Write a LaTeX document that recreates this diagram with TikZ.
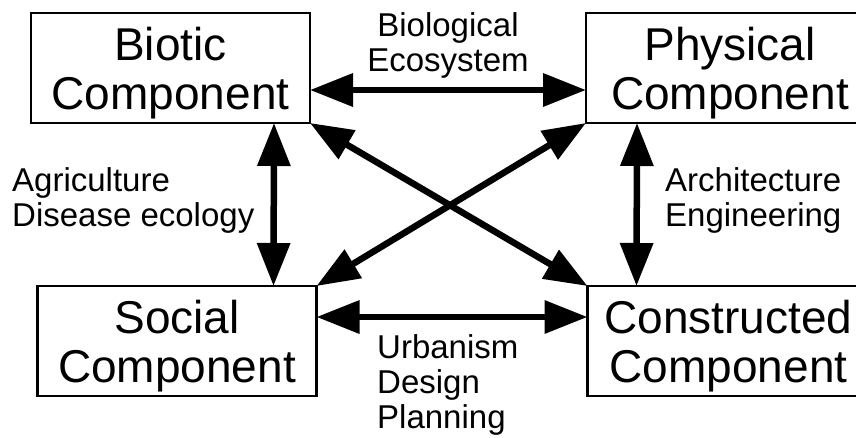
\documentclass[tikz,border=0pt]{standalone}
\usepackage{fontspec}
\setmainfont{Liberation Sans}
\usetikzlibrary{arrows.meta,positioning}

\begin{document}
\begin{tikzpicture}[
  x=1pt, y=-1pt,
  node distance=163pt and 276pt,
  comp/.style={draw, line width=2.5pt, outer sep=0pt, align=center, minimum width=279pt, minimum height=110pt, inner sep=0pt, text depth=0pt, font=\fontsize{46}{49}\selectfont},
  lbl/.style={inner sep=0pt, font=\fontsize{33}{35}\selectfont},
  dblarrow/.style={line width=6.5pt, {Triangle[length=43pt,width=32pt]}-{Triangle[length=43pt,width=32pt]}}
]
\clip (0,0) rectangle (856,437);
% Components
\node[comp] (biotic) at (170.5,68) {Biotic\\Component};
\node[comp, right=of biotic, minimum width=288pt] (physical) {Physical\\Component};
\node[comp, below=of biotic, xshift=6.5pt] (social) {Social\\Component};
\node[comp, right=271pt of social, minimum width=282pt] (constructed) {Constructed\\Component};
% Links
\draw[dblarrow] ([yshift=-22pt]biotic.east) -- ([yshift=-22pt]physical.west);
\draw[dblarrow] ([yshift=24pt]social.east) -- ([yshift=24pt]constructed.west);
\draw[dblarrow] ([xshift=-36pt]biotic.south east) -- ([xshift=-43pt]social.north east);
\draw[dblarrow] ([xshift=51pt]physical.south west) -- ([xshift=49pt]constructed.north west);
\draw[dblarrow] (biotic.south east) -- (constructed.north west);
\draw[dblarrow] (physical.south west) -- (social.north east);
% Labels
\node[lbl, anchor=north, align=center] (biolbl) at (448,12) {Biological\\Ecosystem};
\node[lbl, anchor=north west, align=left] (agrilbl) at (12,167) {Agriculture\\Disease ecology};
\node[lbl, anchor=north west, align=left] (archlbl) at (665,167) {Architecture\\Engineering};
\node[lbl, anchor=north west, align=left] (urbanlbl) at (377,334) {Urbanism\\Design\\Planning};
\end{tikzpicture}
\end{document}
